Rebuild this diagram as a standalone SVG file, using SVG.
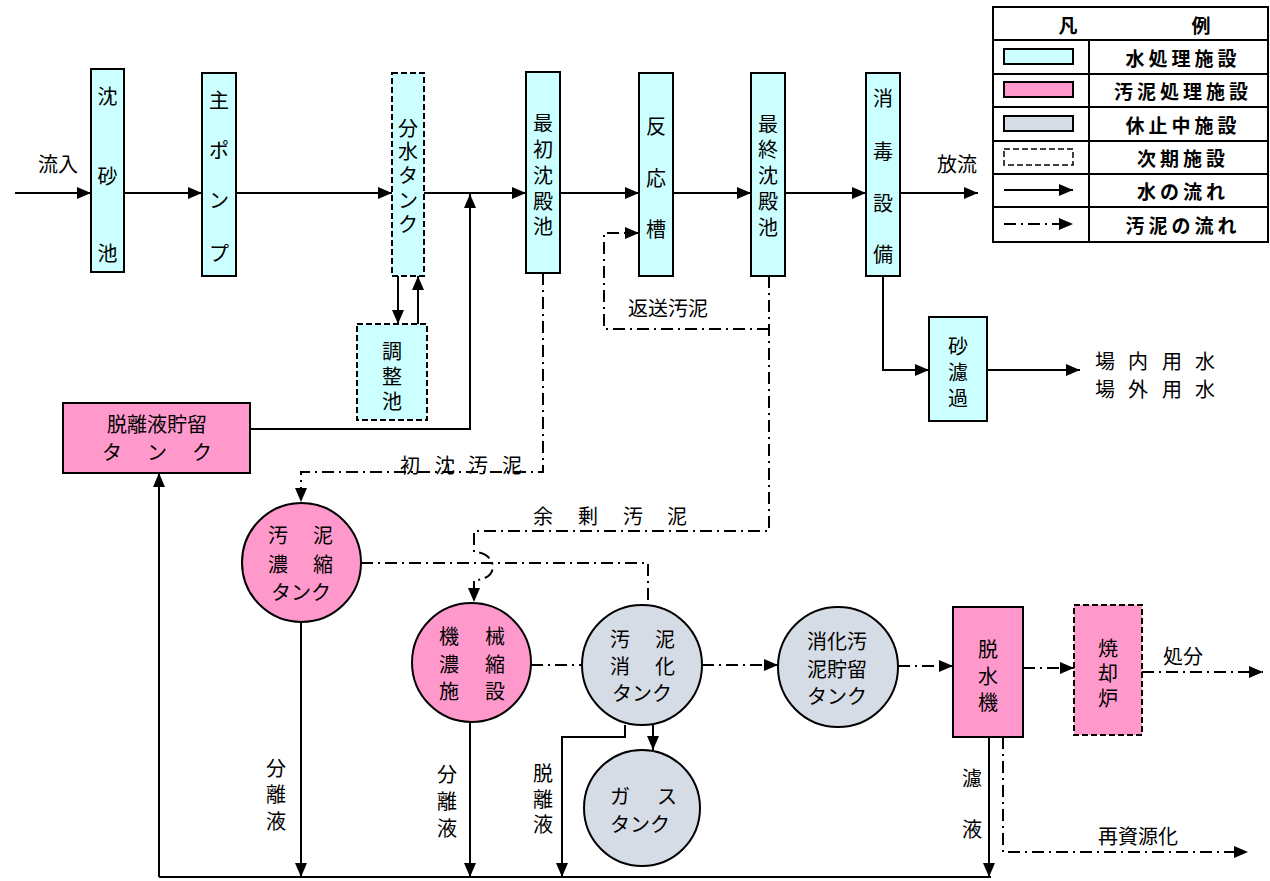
<svg xmlns="http://www.w3.org/2000/svg" width="1270" height="881" viewBox="0 0 1270 881">
<defs>
<marker id="ah" markerUnits="userSpaceOnUse" markerWidth="14" markerHeight="12" refX="14" refY="6" orient="auto"><path d="M0,0 L14,6 L0,12 z" fill="#000"/></marker>
<style>
.t{font-family:"Noto Sans CJK JP","Noto Sans",sans-serif;font-size:20px;fill:#000;text-anchor:middle;dominant-baseline:central}
.lt{font-family:"Noto Sans CJK JP","Noto Sans",sans-serif;font-size:19px;font-weight:bold;fill:#000;text-anchor:middle;dominant-baseline:central;letter-spacing:4px}
.w{fill:#CCFFFF;stroke:#000;stroke-width:2}
.s{fill:#FF99CC;stroke:#000;stroke-width:2}
.g{fill:#D6DCE5;stroke:#000;stroke-width:2}
.d{stroke-dasharray:6,3}
.ln{fill:none;stroke:#000;stroke-width:2}
.dd{fill:none;stroke:#000;stroke-width:2;stroke-dasharray:12,5,2,5}
.ar{marker-end:url(#ah)}
</style>
</defs>
<rect x="0" y="0" width="1270" height="881" fill="#fff"/>

<g id="connectors">
<path class="ln ar" d="M15,193 H91"/>
<path class="ln ar" d="M124,193 H202"/>
<path class="ln ar" d="M236,193 H392"/>
<path class="ln ar" d="M424,193 H526"/>
<path class="ln ar" d="M560,193 H639"/>
<path class="ln ar" d="M673,193 H751"/>
<path class="ln ar" d="M785,193 H866"/>
<path class="ln ar" d="M900,193 H978"/>
<path class="ln ar" d="M398,276 V324"/>
<path class="ln ar" d="M418,324 V276"/>
<path class="ln ar" d="M250,429 H470 V194"/>
<path class="ln ar" d="M883,276 V370 H929"/>
<path class="ln ar" d="M987,370 H1080"/>
<path class="ln ar" d="M301,622 V877"/>
<path class="ln ar" d="M470,722 V877"/>
<path class="ln ar" d="M625,725 V737 H562 V877"/>
<path class="ln ar" d="M653,725 V750"/>
<path class="ln ar" d="M989,737 V877"/>
<path class="ln" d="M159,877 H991"/>
<path class="ln ar" d="M159,877 V473"/>
<path class="dd ar" d="M543,273 V472 H301 V502"/>
<path class="dd ar" d="M769,276 V531 H474 V552 C497,552 501,580 474,580 V602"/>
<path class="dd ar" d="M769,329 H604 V233 H639"/>
<path class="dd" d="M361,563 H648 V605"/>
<path class="dd" d="M531,665 H582"/>
<path class="dd ar" d="M702,665 H778"/>
<path class="dd ar" d="M898,666 H953"/>
<path class="dd ar" d="M1023,668 H1074"/>
<path class="dd ar" d="M1142,672 H1263"/>
<path class="dd ar" d="M1003,737 V852 H1248"/>
</g>

<g id="labels">
<text class="t" x="58" y="163">流入</text>
<text class="t" x="957" y="163">放流</text>
<text class="t" x="668" y="307">返送汚泥</text>
<text class="t" x="410 445 478 512" y="464">初沈汚泥</text>
<text class="t" x="543 588 633 677" y="515">余剰汚泥</text>
<text class="t" x="1105 1138 1172 1205" y="360">場内用水</text>
<text class="t" x="1105 1138 1172 1205" y="388">場外用水</text>
<text class="t" x="276 276 276" y="767 793 820">分離液</text>
<text class="t" x="447 447 447" y="773 800 827">分離液</text>
<text class="t" x="543 543 543" y="772 798 823">脱離液</text>
<text class="t" x="972 972" y="777 828">濾液</text>
<text class="t" x="1183" y="655">処分</text>
<text class="t" x="1138" y="835">再資源化</text>
</g>

<g id="chinsachi"><rect class="w" x="91" y="69" width="33" height="203"/><text class="t" x="107.5 107.5 107.5" y="95 175 252">沈砂池</text></g>
<g id="shupump"><rect class="w" x="202" y="73" width="34" height="203"/><text class="t" x="219 219 219 219" y="99 149 199 252">主ポンプ</text></g>
<g id="bunsuitank"><rect class="w d" x="392" y="73" width="32" height="203"/><text class="t" x="408 408 408 408 408" y="127 150 174 199 223">分水タンク</text></g>
<g id="choseichi"><rect class="w d" x="357" y="324" width="70" height="96"/><text class="t" x="392 392 392" y="350 375 400">調整池</text></g>
<g id="saisho"><rect class="w" x="526" y="72" width="34" height="201"/><text class="t" x="543 543 543 543 543" y="122 148 174 200 225">最初沈殿池</text></g>
<g id="hannoso"><rect class="w" x="639" y="73" width="34" height="203"/><text class="t" x="656 656 656" y="125 177 228">反応槽</text></g>
<g id="saishu"><rect class="w" x="751" y="73" width="34" height="203"/><text class="t" x="768 768 768 768 768" y="123 148 174 200 226">最終沈殿池</text></g>
<g id="shodoku"><rect class="w" x="866" y="73" width="34" height="203"/><text class="t" x="883 883 883 883" y="97 150 202 253">消毒設備</text></g>
<g id="sunaroka"><rect class="w" x="929" y="317" width="58" height="104"/><text class="t" x="958 958 958" y="345 371 397">砂濾過</text></g>
<g id="datsuritank"><rect class="s" x="63" y="403" width="187" height="70"/><text class="t" x="157" y="423">脱離液貯留</text><text class="t" x="112 157 202" y="451">タンク</text></g>
<g id="noshuku"><circle class="s" cx="301.5" cy="562.5" r="59.5"/><text class="t" x="278 323" y="534">汚泥</text><text class="t" x="278 323" y="563">濃縮</text><text class="t" x="301" y="591">タンク</text></g>
<g id="kikai"><circle class="s" cx="471.5" cy="662.5" r="59.5"/><text class="t" x="449 495" y="635">機械</text><text class="t" x="449 495" y="663">濃縮</text><text class="t" x="449 495" y="690">施設</text></g>
<g id="shoka"><circle class="g" cx="642" cy="665" r="60"/><text class="t" x="620 665" y="638">汚泥</text><text class="t" x="620 665" y="665">消化</text><text class="t" x="642" y="692">タンク</text></g>
<g id="gastank"><circle class="g" cx="642" cy="808" r="58"/><text class="t" x="620 667" y="795">ガス</text><text class="t" x="640" y="823">タンク</text></g>
<g id="chozo"><circle class="g" cx="838" cy="667" r="60"/><text class="t" x="837" y="640">消化汚</text><text class="t" x="837" y="668">泥貯留</text><text class="t" x="837" y="695">タンク</text></g>
<g id="dassuiki"><rect class="s" x="953" y="607" width="70" height="130"/><text class="t" x="988 988 988" y="648 675 701">脱水機</text></g>
<g id="shokyakuro"><rect class="s d" x="1074" y="605" width="68" height="130"/><text class="t" x="1108 1108 1108" y="647 672 697">焼却炉</text></g>

<g id="legend">
<rect x="993" y="7" width="275" height="235" fill="#fff" stroke="#000" stroke-width="2"/>
<path class="ln" d="M993,40 H1268 M993,74 H1268 M993,107 H1268 M993,141 H1268 M993,174 H1268 M993,207 H1268 M1089,40 V242"/>
<text class="lt" x="1070" y="24">凡</text>
<text class="lt" x="1203" y="24">例</text>
<rect class="w" x="1004" y="49" width="69" height="15"/>
<rect class="s" x="1004" y="82" width="69" height="15"/>
<rect class="g" x="1004" y="116" width="69" height="15"/>
<rect class="d" x="1004" y="149" width="69" height="16" fill="none" stroke="#000" stroke-width="1.5"/>
<path class="ln ar" d="M1004,190 H1073"/>
<path class="dd ar" d="M1004,224 H1073"/>
<text class="lt" x="1183" y="57">水処理施設</text>
<text class="lt" x="1183" y="90">汚泥処理施設</text>
<text class="lt" x="1183" y="124">休止中施設</text>
<text class="lt" x="1183" y="157">次期施設</text>
<text class="lt" x="1183" y="190">水の流れ</text>
<text class="lt" x="1183" y="224">汚泥の流れ</text>
</g>
</svg>
